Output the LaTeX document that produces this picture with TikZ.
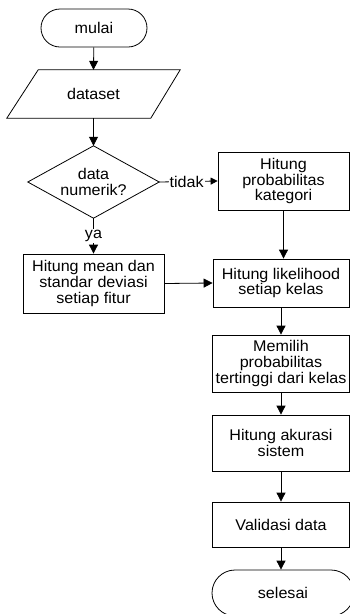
\documentclass[tikz,border=0pt]{standalone}
\usepackage{fontspec}
\setmainfont{Liberation Sans}[FakeStretch=1.04]
\usetikzlibrary{arrows.meta,shapes.misc}
\begin{document}
\begin{tikzpicture}[x=1pt,y=-1pt,
  font=\fontsize{15.5}{15.7}\selectfont,
  ln/.style={line width=0.8pt, draw=black},
  box/.style={ln, rectangle, align=center, inner sep=0pt},
  term/.style={ln, rounded rectangle, align=center, inner sep=0pt},
  ghost/.style={rectangle, align=center, inner sep=0pt},
  arr/.style={ln, -{Triangle[width=9pt,length=9pt]}},
  sarr/.style={ln, -{Triangle[width=7pt,length=7pt]}},
  lbl/.style={fill=white, inner sep=1pt}]
\useasboundingbox (0,0) rectangle (350,614);
\clip (0,0) rectangle (350,614);

% nodes
\node[term, minimum width=106pt, minimum height=38pt] (mulai) at (94,28) {mulai};
\node[ghost, minimum width=173pt, minimum height=48pt] (dataset) at (93.5,94) {dataset};
\draw[ln] (dataset.south west) -- ([xshift=144pt]dataset.south west)
  -- (dataset.north east) -- ([xshift=-142pt]dataset.north east) -- cycle;
\node[ghost, minimum width=131pt, minimum height=72pt] (dec) at (93.5,182) {data\\numerik?};
\draw[ln] (dec.north) -- (dec.east) -- (dec.south) -- (dec.west) -- cycle;

\node[box, minimum width=131pt, minimum height=58pt] (prob) at (283.5,181)
  {Hitung\\probabilitas\\kategori};
\node[box, minimum width=141pt, minimum height=59pt] (mean) at (93.5,283.5)
  {Hitung mean dan\\standar deviasi\\setiap fitur};
\node[box, minimum width=136pt, minimum height=48pt] (like) at (281,283)
  {Hitung likelihood\\setiap kelas};
\node[box, minimum width=137pt, minimum height=57pt] (pilih) at (281,363.5)
  {Memilih\\probabilitas\\tertinggi dari kelas};
\node[box, minimum width=137pt, minimum height=56pt] (akurasi) at (281,443)
  {Hitung akurasi\\sistem};
\node[box, minimum width=137pt, minimum height=45pt] (valid) at (281,524.5)
  {Validasi data};
\node[term, minimum width=142pt, minimum height=46pt] (selesai) at (283,593) {selesai};

% connectors
\draw[arr] (mulai) -- (dataset.north);
\draw[arr] (dataset.south) -- (dec.north);
\draw[sarr] (dec.east) -- node[lbl, pos=0.47] {tidak} (prob.west);
\draw[arr] (dec.south) -- node[lbl, pos=0.5] {ya} (mean.north);
\draw[arr] (prob.south) -- (prob.south |- like.north);
\draw[arr] (mean.east) -- (like.west);
\draw[arr] (like.south) -- (pilih.north);
\draw[arr] (pilih.south) -- (akurasi.north);
\draw[arr] (akurasi.south) -- (valid.north);
\draw[arr] (valid.south) -- (valid.south |- selesai.north);
\end{tikzpicture}
\end{document}
